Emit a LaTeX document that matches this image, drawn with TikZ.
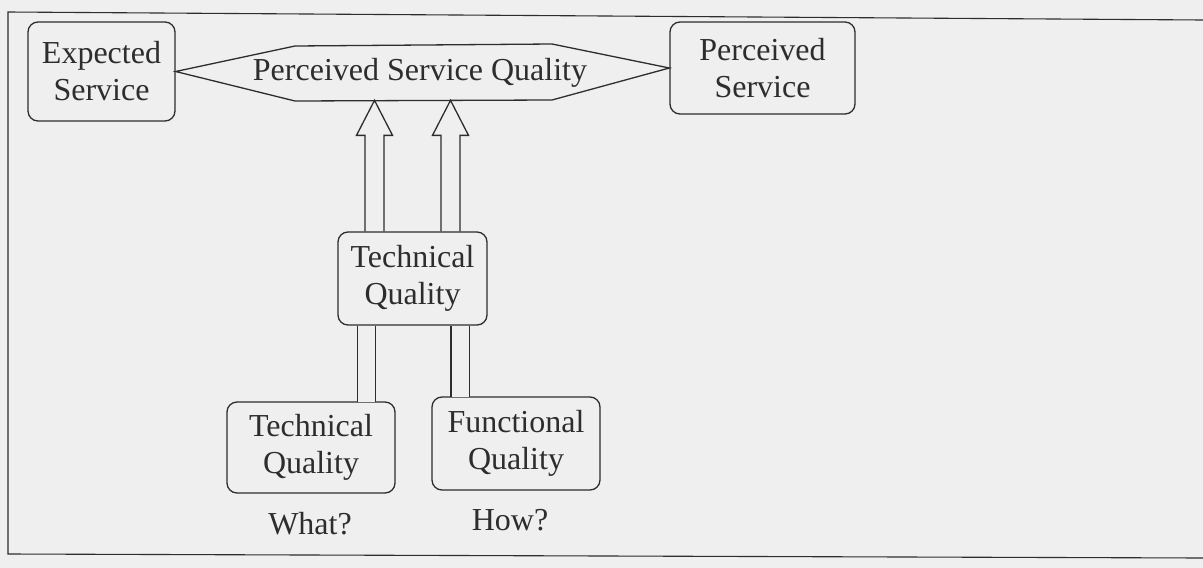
\documentclass[tikz,border=0pt]{standalone}
\usepackage{fontspec}
\setmainfont{Liberation Serif}
\usetikzlibrary{positioning,calc}
\definecolor{paper}{RGB}{239,239,239}
\definecolor{ink}{RGB}{45,45,45}
\tikzset{
  qline/.style={draw=ink, line width=1.3pt},
  qbox/.style={qline, rounded corners=10pt, align=center, inner sep=0pt,
    minimum width=#1, minimum height=92pt, text=ink},
  qtext/.style={align=center, text=ink},
  qbar/.style={draw=ink, line width=1.3pt, double=paper, double distance=17pt,
    shorten <=0.7pt, shorten >=0.7pt}
}

\begin{document}
\begin{tikzpicture}[x=1pt, y=-1pt, font=\fontsize{32}{37}\selectfont]
  \fill[paper] (0,0) rectangle (1203,568);
  \useasboundingbox (0,0) rectangle (1203,568);
  % frame of the figure
  \draw[qline, line width=1.1pt] (1203,20) -- (8,12) -- (8,554) -- (1203,558);

  \node[qbox=147pt, minimum height=99pt] (exp) at (101.5,71.5) {Expected\\Service};
  \node[qbox=185pt] (perc) at (762.5,68) {Perceived\\Service};
  \node[qtext] (psq) at (420,73) {Perceived Service Quality};
  \node[qbox=149pt, minimum height=93pt] (tq) at (412.5,278.5) {Technical\\Quality};
  \node[qbox=168pt, minimum height=91pt] (tech) at (311,447.5) {Technical\\Quality};
  \node[qbox=168pt, minimum height=93pt] (func) at (516,443.5) {Functional\\Quality};
  \node[qtext] (what) at (310,524) {What?};
  \node[qtext] (how) at (510,520) {How?};

  % gap between the two services
  \draw[qline] (exp.east) -- (295,46) -- (552,44) -- (perc.west) -- (552,100) -- (295,101) -- cycle;

  % hollow arrows up to the gap
  \foreach \dx in {-38,38}
    \draw[qline] ([xshift=\dx pt-9.5pt]tq.north) -- ++(0,-96) -- ++(-8.5,0) -- ++(18,-35)
      -- ++(18,35) -- ++(-8.5,0) -- ++(0,96);

  % bars down to the two dimensions
  \draw[qbar] ([xshift=-46pt]tq.south) -- ++(0,77);
  \draw[qbar] ([xshift=47.5pt]tq.south) -- ++(0,72);
\end{tikzpicture}
\end{document}
